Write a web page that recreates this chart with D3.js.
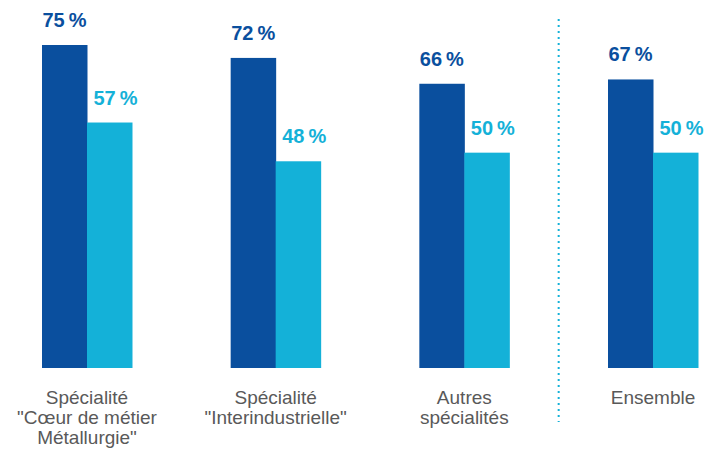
<!DOCTYPE html>
<html>
<head>
<meta charset="utf-8">
<script src="https://cdn.jsdelivr.net/npm/d3@7"></script>
<style>
  body { margin: 0; background: #fff; }
  svg { display: block; font-family: "Liberation Sans", Arial, sans-serif; }
</style>
</head>
<body>
<svg id="grafico" width="705" height="450"></svg>
<script>
// Données
let categories = [
  'Spécialité\n"Cœur de métier\nMétallurgie"',
  'Spécialité\n"Interindustrielle"',
  "Autres\nspécialités",
  "Ensemble"
];
let series = ["serie1", "serie2"];
let valeurs1 = [75, 72, 66, 67];
let valeurs2 = [57, 48, 50, 50];
let couleurs = ["#0a4f9e", "#14b1d8"];

let base = 368;

let svg = d3.select("#grafico");

let dados = categories.map((c, i) => ({ cat: c, vals: [valeurs1[i], valeurs2[i]] }));

// Escalas
let fnX = d3.scaleBand().domain(categories).range([42, 698]).paddingInner(0.523);
let fnS = d3.scaleBand().domain(series).range([0, fnX.bandwidth()]);
let fnY = d3
  .scaleLinear()
  .domain([0, d3.max(valeurs1)])
  .range([base, 45]);

let grupos = svg
  .selectAll(".grupo")
  .data(dados)
  .enter()
  .append("g")
  .classed("grupo", true)
  .attr("transform", (d) => `translate(${fnX(d.cat)},0)`);

// Barras
grupos
  .selectAll(".barra")
  .data((d) => d.vals.map((v, j) => ({ serie: series[j], v: v, j: j })))
  .enter()
  .append("rect")
  .classed("barra", true)
  .attr("x", (d) => fnS(d.serie))
  .attr("y", (d) => fnY(d.v))
  .attr("width", fnS.bandwidth() + 0.5)
  .attr("height", (d) => base - fnY(d.v))
  .attr("fill", (d) => couleurs[d.j]);

// Rótulos
grupos
  .selectAll(".rotulo")
  .data((d) => d.vals.map((v, j) => ({ serie: series[j], v: v, j: j })))
  .enter()
  .append("text")
  .classed("rotulo", true)
  .attr("x", (d) => fnS(d.serie) + fnS.bandwidth() / 2 + (d.j ? 6 : 0))
  .attr("y", (d) => fnY(d.v) - 18)
  .attr("text-anchor", "middle")
  .attr("font-size", 20)
  .attr("font-weight", "bold")
  .attr("fill", (d) => couleurs[d.j])
  .text((d) => d.v + "\u2009%");

// Catégories
let cats = svg
  .selectAll(".categorie")
  .data(categories)
  .enter()
  .append("text")
  .classed("categorie", true)
  .attr("text-anchor", "middle")
  .attr("font-size", 19)
  .attr("fill", "#595959");

cats
  .selectAll("tspan")
  .data((d) => d.split("\n").map((l) => ({ l: l, x: fnX(d) + fnX.bandwidth() / 2 })))
  .enter()
  .append("tspan")
  .attr("x", (d) => d.x)
  .attr("y", (d, i) => 404 + i * 20)
  .text((d) => d.l);

// Séparateur
let xSep = (fnX(categories[2]) + fnX.bandwidth() + fnX(categories[3])) / 2;
svg
  .append("line")
  .attr("x1", xSep)
  .attr("x2", xSep)
  .attr("y1", 19)
  .attr("y2", 422)
  .attr("stroke", "#14b1d8")
  .attr("stroke-width", 2)
  .attr("stroke-dasharray", "2,4");
</script>
</body>
</html>
